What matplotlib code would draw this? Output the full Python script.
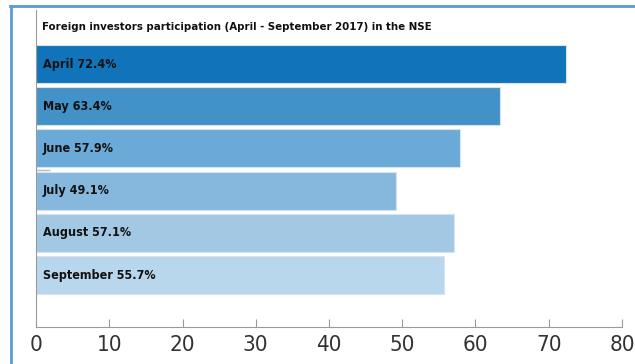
import matplotlib
import matplotlib.pyplot as plt
from matplotlib.lines import Line2D

matplotlib.use("Agg")

months = ["April", "May", "June", "July", "August", "September"]
shares = [72.4, 63.4, 57.9, 49.1, 57.1, 55.7]
colors = ["#1174bb", "#4292c8", "#6baad8", "#86b8dd", "#a2c8e4", "#b9d7ec"]
xticks = [0, 10, 20, 30, 40, 50, 60, 70, 80]
title = "Foreign investors participation (April - September 2017) in the NSE"

font = dict(family="DejaVu Sans", fontstretch="condensed")

fig = plt.figure(figsize=(6.35, 3.64), dpi=100)
ax = fig.add_axes([36 / 635, 1 - 327 / 364, 586 / 635, 317 / 364])

pos = list(range(len(months)))
ax.barh(pos, shares, height=0.9, color=colors, edgecolor="#d6e2ee", linewidth=0.8)
for p, m, v in zip(pos, months, shares):
    ax.annotate(f"{m} {v}%", (0, p), xytext=(5, 0), textcoords="offset points",
                va="center", ha="left", fontsize=9, fontweight="bold",
                color="#111111", **font)

# title sits in the empty slot above the bars
ax.annotate(title, (0, -0.88), xytext=(4.5, 0), textcoords="offset points",
            ha="left", va="center", fontsize=8.2, fontweight="bold",
            color="#111111", **font)

ax.set_xlim(0, 80)
ax.set_ylim(6.23, -1.28)
ax.set_xticks(xticks)
ax.set_xticklabels([str(t) for t in xticks], fontsize=16, color="#333333",
                   **font)
ax.set_yticks([2.5])
ax.set_yticklabels([""])
ax.tick_params(axis="x", direction="in", length=6, width=0.8, color="#999999", pad=6)
ax.tick_params(axis="y", direction="in", length=10, width=1.0, color="#bbbbbb")

for side in ["top", "right"]:
    ax.spines[side].set_visible(False)
for side in ["left", "bottom"]:
    ax.spines[side].set_color("#9a9a9a")
    ax.spines[side].set_linewidth(0.8)

# outer frame (left and top blue rule)
fig.add_artist(Line2D([10.5 / 635, 10.5 / 635], [0, 1 - 6 / 364],
                      transform=fig.transFigure, color="#5b9bd5", linewidth=2))
fig.add_artist(Line2D([10 / 635, 1], [1 - 6 / 364, 1 - 6 / 364],
                      transform=fig.transFigure, color="#5b9bd5", linewidth=2))

fig.savefig("out.png", dpi=100)
plt.close(fig)
